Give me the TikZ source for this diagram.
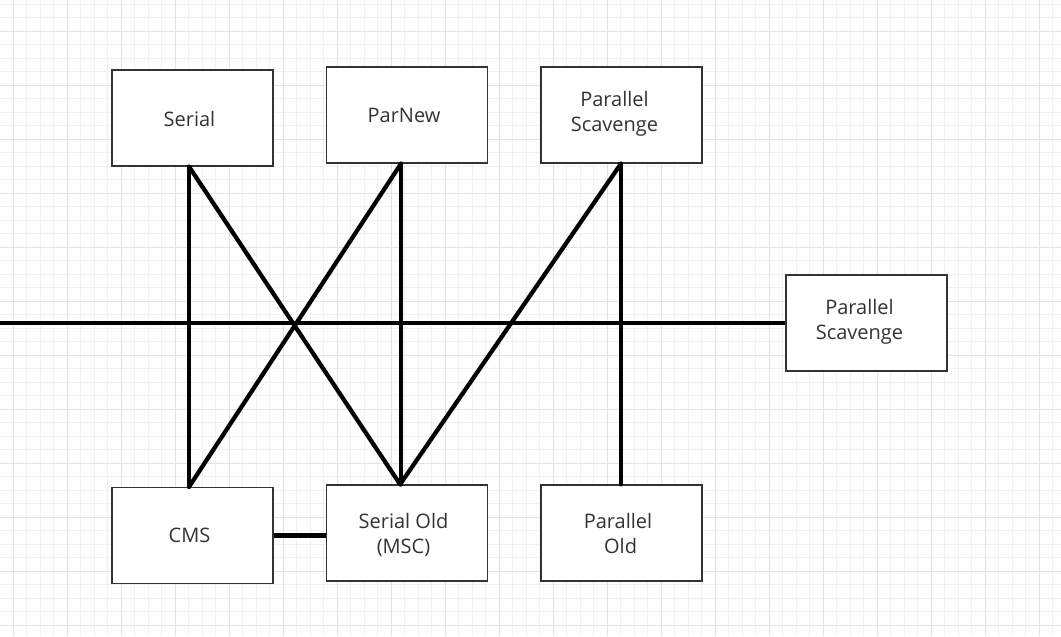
\documentclass[tikz,border=0pt]{standalone}
\usepackage{fontspec}
\setmainfont{Open Sans}
\definecolor{minorgrid}{HTML}{F1F1F1}
\definecolor{majorgrid}{HTML}{E3E3E3}
\definecolor{boxline}{HTML}{333333}
\definecolor{txt}{HTML}{333333}
\tikzset{
  gcbox/.style={draw=boxline, line width=1pt, fill=white, inner sep=0pt,
    minimum width=120.75pt, minimum height=72pt},
  gctext/.style={text=txt, align=center, inner sep=0pt,
    font=\fontsize{15pt}{18.75pt}\selectfont},
  conn/.style={line width=3.2pt, black, line cap=round},
}
\begin{document}
\begin{tikzpicture}[x=0.75pt,y=-0.75pt]
\useasboundingbox (0,0) rectangle (1061,636);
\fill[white] (0,0) rectangle (1061,636);
% grid
\foreach \i in {0,...,78} {
  \draw[minorgrid, line width=0.75pt] ({13.3+13.5*\i},0) -- ({13.3+13.5*\i},636);
}
\foreach \i in {0,...,47} {
  \draw[minorgrid, line width=0.75pt] (0,{4.3+13.5*\i}) -- (1061,{4.3+13.5*\i});
}
\foreach \i in {0,...,19} {
  \draw[majorgrid, line width=0.75pt] ({13.3+54*\i},0) -- ({13.3+54*\i},636);
}
\foreach \i in {0,...,11} {
  \draw[majorgrid, line width=0.75pt] (0,{31.3+54*\i}) -- (1061,{31.3+54*\i});
}
% boxes
\node[gcbox] (serial) at (192.5,118) {};
\node[gcbox] (parnew) at (407,115) {};
\node[gcbox] (ps) at (621.5,115) {};
\node[gcbox] (ps2) at (866.5,323) {};
\node[gcbox] (cms) at (192.5,535.5) {};
\node[gcbox] (serialold) at (407,533) {};
\node[gcbox] (parold) at (621.5,533) {};
% texts
\node[gctext] (serialt) at (189.5,118.5) {Serial};
\node[gctext] (parnewt) at (404,115.5) {ParNew};
\node[gctext] (pst) at (614.5,113.5) {Parallel\\Scavenge};
\node[gctext] (ps2t) at (859.5,322) {Parallel\\Scavenge};
\node[gctext] (cmst) at (189.5,535.5) {CMS};
\node[gctext] (serialoldt) at (403.5,534.5) {Serial Old\\(MSC)};
\node[gctext] (paroldt) at (618,533) {Parallel\\\ Old};
% connector end points
\coordinate (sA) at ([xshift=-2.6pt]serial.south);
\coordinate (pA) at ([xshift=-4.5pt]parnew.south);
\coordinate (qA) at ([xshift=-0.4pt]ps.south);
\coordinate (cA) at ([xshift=-2.6pt]cms.north);
\coordinate (oA) at ([xshift=-5.2pt]serialold.north);
\coordinate (oB) at ([xshift=-4.5pt]serialold.north);
\coordinate (rA) at ([xshift=-0.4pt]parold.north);
\coordinate (lstart) at (0,323);
% connectors
\draw[conn] (sA) -- (cA);
\draw[conn] (sA) -- (oA);
\draw[conn] (pA) -- (cA);
\draw[conn] (pA) -- (oB);
\draw[conn] (qA) -- (oA);
\draw[conn] (qA) -- (rA);
\draw[conn, line cap=butt] (lstart) -- (ps2.west);
\draw[conn, line cap=butt] (cms.east) -- (serialold.west |- cms.east);
\end{tikzpicture}
\end{document}
